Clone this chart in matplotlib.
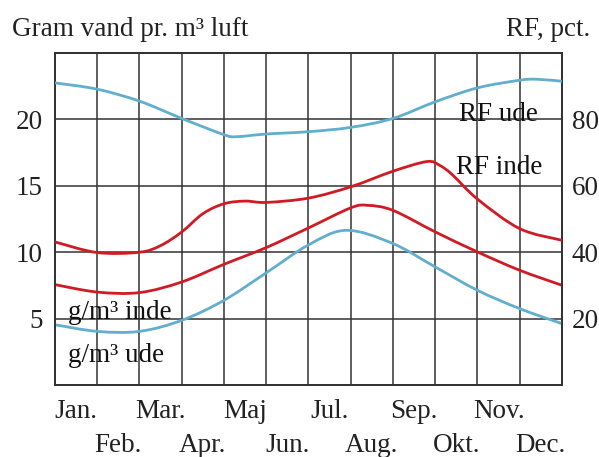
"""Gram vand pr. m3 luft / RF, inde og ude over aaret."""
import matplotlib.pyplot as plt
import numpy as np
from matplotlib.path import Path
from matplotlib.patches import PathPatch

plt.rcParams["font.family"] = ["Liberation Serif", "DejaVu Serif"]

MONTHS_TOP = ["Jan.", "Mar.", "Maj", "Jul.", "Sep.", "Nov."]
MONTHS_BOT = ["Feb.", "Apr.", "Jun.", "Aug.", "Okt.", "Dec."]

# curve samples, x in months (0 = start of Jan.)
x_rf_ude = [0, 1, 2, 3, 4, 4.3, 5, 6, 7, 8, 9, 10, 11, 11.4, 12]
rf_ude = [91.0, 89.1, 85.5, 80.3, 75.4, 74.8, 75.6, 76.3, 77.6, 80.3, 85.3, 89.5, 91.8, 92.1, 91.5]

x_rf_inde = [0, 1, 2, 2.5, 3, 3.5, 4, 4.5, 5, 6, 7, 8, 8.8, 9.1, 9.4, 10, 11, 12]
rf_inde = [43.1, 39.9, 40.0, 42.0, 46.1, 51.6, 54.6, 55.4, 55.0, 56.3, 59.7, 64.4, 67.3, 66.2,
           63.4, 56.0, 47.1, 43.6]

x_g_inde = [0, 1, 2, 3, 4, 5, 6, 7, 7.4, 8, 9, 10, 11, 12]
g_inde = [7.56, 7.0, 6.96, 7.76, 9.09, 10.35, 11.83, 13.34, 13.53, 13.15, 11.53, 10.02, 8.64, 7.51]

x_g_ude = [0, 1, 2, 3, 4, 5, 6, 6.9, 8, 9, 10, 11, 12]
g_ude = [4.54, 4.04, 4.04, 4.87, 6.38, 8.45, 10.55, 11.65, 10.65, 8.89, 7.13, 5.75, 4.62]

BLUE = "#62aecd"
RED = "#d01a24"


def smooth_path(xs, ys):
    # Catmull-Rom through the read points, drawn as cubic Bezier segments
    p = np.column_stack([xs, ys]).astype(float)
    ext = np.vstack([p[0], p, p[-1]])
    verts = [p[0]]
    codes = [Path.MOVETO]
    for i in range(1, len(ext) - 2):
        p0, p1, p2, p3 = ext[i - 1], ext[i], ext[i + 1], ext[i + 2]
        c1 = p1 + (p2 - p0) / 6.0
        c2 = p2 - (p3 - p1) / 6.0
        verts += [c1, c2, p2]
        codes += [Path.CURVE4] * 3
    return Path(verts, codes)


fig = plt.figure(figsize=(5.99, 4.57), dpi=100)
ax = fig.add_axes([0.0918, 0.1575, 0.8464, 0.7265])
ax2 = ax.twinx()

ax.set_xlim(0, 12)
ax.set_ylim(0, 25)
ax2.set_ylim(0, 100)

for a, xs, ys, col in [(ax, x_g_inde, g_inde, RED), (ax, x_g_ude, g_ude, BLUE),
                       (ax2, x_rf_inde, rf_inde, RED), (ax2, x_rf_ude, rf_ude, BLUE)]:
    a.add_patch(PathPatch(smooth_path(xs, ys), fill=False, edgecolor=col, lw=2.0, zorder=3,
                          capstyle="butt"))

FS = 19.5
ax.set_yticks([5, 10, 15, 20])
ax.set_yticklabels(["5", "10", "15", "20"])
ax2.set_yticks([20, 40, 60, 80])
ax2.set_yticklabels(["20", "40", "60", "80"])
ax.tick_params(axis="y", length=0, pad=9, labelsize=FS, colors="#222")
ax2.tick_params(axis="y", length=0, pad=7, labelsize=FS, colors="#222")

ax.set_xticks(np.arange(0, 12, 2) + 0.5)
ax.set_xticklabels(MONTHS_TOP)
ax.set_xticks(np.arange(1, 12, 2) + 0.5, minor=True)
ax.set_xticklabels(MONTHS_BOT, minor=True)
ax.tick_params(axis="x", which="major", length=0, pad=10, labelsize=FS, colors="#222")
ax.tick_params(axis="x", which="minor", length=0, pad=34.5, labelsize=FS, colors="#222")

for k in range(1, 12):
    ax.axvline(k, color="#333", lw=1.1, zorder=1)
for v in [5, 10, 15, 20]:
    ax.axhline(v, color="#333", lw=1.1, zorder=1)
for a in (ax, ax2):
    for s in a.spines.values():
        s.set_color("#333")
        s.set_linewidth(1.3)

ax.text(9.57, 19.9, "RF ude", fontsize=FS, color="#111", zorder=4)
ax.text(9.5, 15.9, "RF inde", fontsize=FS, color="#111", zorder=4)
ax.text(0.31, 5.0, "g/m³ inde", fontsize=FS, color="#111", zorder=4)
ax.text(0.31, 1.75, "g/m³ ude", fontsize=FS, color="#111", zorder=4)

fig.text(12 / 599, 1 - 36 / 457, "Gram vand pr. m³ luft", fontsize=FS, color="#222",
         va="baseline", ha="left")
fig.text(590 / 599, 1 - 36 / 457, "RF, pct.", fontsize=FS, color="#222",
         va="baseline", ha="right")

fig.savefig("out.png", dpi=100)
